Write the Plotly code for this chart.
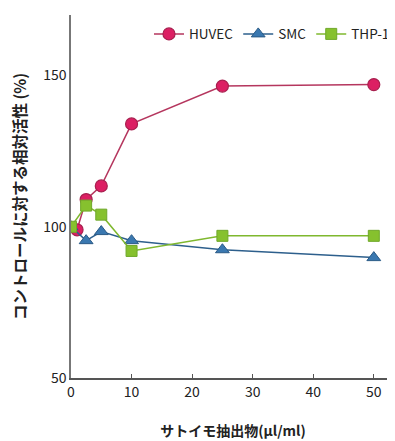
import plotly.graph_objects as go

huvec_x = [1, 2.5, 5, 10, 25, 50]
huvec_y = [99, 109, 113.5, 134, 146.5, 147]
smc_x = [0, 2.5, 5, 10, 25, 50]
smc_y = [100, 95.4, 98.4, 95.4, 92.4, 89.8]
thp_x = [0, 2.5, 5, 10, 25, 50]
thp_y = [100, 107, 104, 92, 97, 97]

x_ticks = [0, 10, 20, 30, 40, 50]
y_ticks = [50, 100, 150]

font = "Noto Sans CJK JP, Noto Sans, sans-serif"

fig = go.Figure()
fig.add_trace(go.Scatter(
    x=huvec_x, y=huvec_y, name="HUVEC", mode="lines+markers",
    line=dict(color="#b5365e", width=1.5),
    marker=dict(symbol="circle", size=12, color="#dc1f63", line=dict(color="#a8204f", width=1.2)),
))
fig.add_trace(go.Scatter(
    x=smc_x, y=smc_y, name="SMC", mode="lines+markers",
    line=dict(color="#2d5f8c", width=1.5),
    marker=dict(symbol="triangle-up", size=12, color="#3a78b0", line=dict(color="#2a5a86", width=1)),
))
fig.add_trace(go.Scatter(
    x=thp_x, y=thp_y, name="THP-1", mode="lines+markers",
    line=dict(color="#7fb82e", width=1.5),
    marker=dict(symbol="square", size=11, color="#86c12e", line=dict(color="#6fa82a", width=1)),
))

# page body has an 8px default margin: figure is sized/offset to compensate
fig.update_layout(
    width=387, height=433,
    margin=dict(l=63, r=0, t=7, b=63, autoexpand=False),
    paper_bgcolor="white", plot_bgcolor="white",
    font=dict(family=font, size=13, color="#222"),
    showlegend=True,
    legend=dict(orientation="h", x=1.0, xanchor="right", y=0.99, yanchor="top",
                font=dict(size=13.5, color="#222"), bgcolor="rgba(0,0,0,0)",
                itemwidth=30, tracegroupgap=0),
    xaxis=dict(
        range=[0, 53.5], tickvals=x_ticks, showgrid=False, zeroline=False,
        automargin=False,
        showline=True, linecolor="#555", linewidth=2,
        ticks="inside", ticklen=4, tickcolor="#555",
        tickfont=dict(size=14, color="#222"),
        title=dict(text="サトイモ抽出物(μl/ml)", font=dict(size=14, color="#222", weight="bold"), standoff=26),
    ),
    yaxis=dict(
        range=[50, 170], tickvals=y_ticks, showgrid=False, zeroline=False,
        automargin=False,
        showline=True, linecolor="#777", linewidth=1.5,
        ticks="", tickfont=dict(size=14, color="#222"),
        title=dict(text="コントロールに対する相対活性 (%)", font=dict(size=15.5, color="#222", weight="bold"), standoff=19),
    ),
)

fig.write_html("out.html")
